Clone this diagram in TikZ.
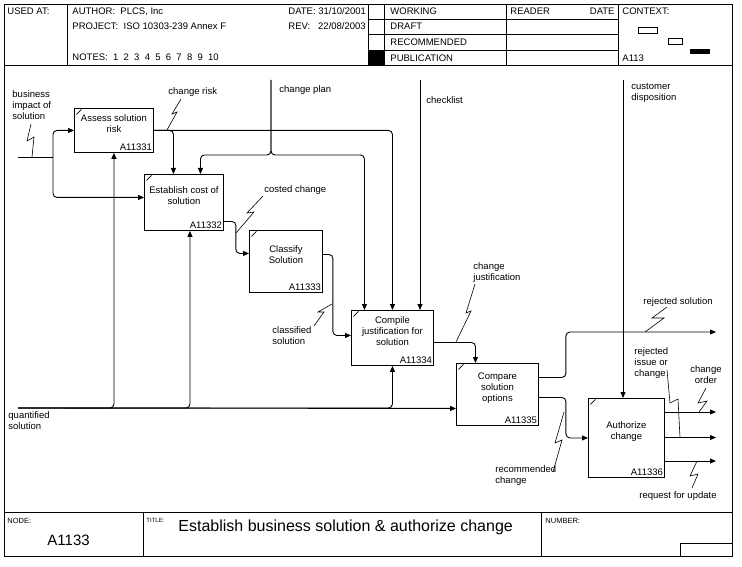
\documentclass[tikz,border=0pt]{standalone}
\usepackage{fontspec}
\setmainfont{Liberation Sans}
\usetikzlibrary{arrows.meta}

\begin{document}
\begin{tikzpicture}[x=1pt,y=-1pt,line width=0.9pt,
    txt/.style={font=\fontsize{9.5}{11}\selectfont,inner sep=0pt,align=left,anchor=north west},
    hd/.style={font=\fontsize{9.5}{11}\selectfont,inner sep=0pt,anchor=base west},
    tiny/.style={font=\fontsize{7}{8}\selectfont,inner sep=0pt,anchor=base west},
    func/.style 2 args={draw,anchor=north west,inner sep=0pt,minimum width=#1pt,minimum height=#2pt,
      path picture={\draw[line width=0.6pt] ([shift={(2pt,-6pt)}]path picture bounding box.north west) -- ++(5pt,5pt);}},
    fname/.style={font=\fontsize{9.5}{11}\selectfont,inner sep=0pt,align=center},
    fid/.style={font=\fontsize{9.5}{11}\selectfont,inner xsep=1.5pt,inner ysep=2pt,anchor=south east},
    flow/.style={rounded corners=4pt,-{Triangle[length=6pt,width=5pt]}},
    squig/.style={line width=0.6pt}]
\useasboundingbox (0,0) rectangle (742,567);

% frame, header and footer
\draw (4,4) rectangle (732,556);
\draw (4,65) -- (732,65);
\draw (67,4) -- (67,65);
\foreach \x in {368,384,506,618} \draw (\x,4) -- (\x,65);
\foreach \y in {19,34,50} \draw (368,\y) -- (618,\y);
\fill (368,50) rectangle (384,65);
\draw[line width=0.6pt] (638,27) rectangle (657,33);
\draw[line width=0.6pt] (668,38) rectangle (682,44);
\fill (690,49) rectangle (710,54);
\draw (4,512) -- (732,512);
\draw (143,512) -- (143,556);
\draw (541,512) -- (541,556);
\draw (680,556) |- (732,543);

\node[hd] (usedat) at (7,15) {USED AT:};
\node[hd] (author) at (72,15) {AUTHOR:\ \ PLCS, Inc};
\node[hd] (project) at (72,29.5) {PROJECT:\ \ ISO 10303-239 Annex F};
\node[hd] (notes) at (72,60.5) {NOTES:\ \ 1\ \ 2\ \ 3\ \ 4\ \ 5\ \ 6\ \ 7\ \ 8\ \ 9\ \ 10};
\node[hd] (date) at (288,15) {DATE: 31/10/2001};
\node[hd] (rev) at (288,29.5) {REV:\ \ \ 22/08/2003};
\node[hd] (working) at (390,15) {WORKING};
\node[hd] (draft) at (390,30) {DRAFT};
\node[hd] (recom) at (390,45.6) {RECOMMENDED};
\node[hd] (publ) at (390,61.3) {PUBLICATION};
\node[hd] (reader) at (510,15) {READER};
\node[hd,anchor=base east] (rdate) at (615,15) {DATE};
\node[hd] (context) at (622,15) {CONTEXT:};
\node[hd] (ctxnode) at (622,61.3) {A113};

\node[tiny,font=\fontsize{7.5}{9}\selectfont] (nodelbl) at (7,523) {NODE:};
\node[tiny,font=\fontsize{6}{7}\selectfont] (titlelbl) at (146,522) {TITLE:};
\node[tiny,font=\fontsize{7.5}{9}\selectfont] (numberlbl) at (545,523) {NUMBER:};
\node[hd,font=\fontsize{15}{18}\selectfont] (nodeno) at (47,545) {A1133};
\node[hd,font=\fontsize{16}{19}\selectfont] (title) at (178,531.7) {Establish business solution \& authorize change};

% activities
\node[func={79}{44}] (A11331) at (74,108) {};
\node[fname] (A11331n) at ([yshift=6.5pt]A11331.center) {Assess solution\\risk};
\node[fid] (A11331i) at (A11331.south east) {A11331};
\node[func={79}{56}] (A11332) at (144,174) {};
\node[fname] (A11332n) at ([yshift=6.5pt]A11332.center) {Establish cost of\\solution};
\node[fid] (A11332i) at (A11332.south east) {A11332};
\node[func={73}{62}] (A11333) at (249,230) {};
\node[fname] (A11333n) at ([yshift=6.5pt]A11333.center) {Classify\\Solution};
\node[fid] (A11333i) at (A11333.south east) {A11333};
\node[func={82}{55}] (A11334) at (351,310) {};
\node[fname] (A11334n) at ([yshift=6.5pt]A11334.center) {Compile\\justification for\\solution};
\node[fid] (A11334i) at (A11334.south east) {A11334};
\node[func={82}{62}] (A11335) at (456,363) {};
\node[fname] (A11335n) at ([yshift=6.5pt]A11335.center) {Compare\\solution\\options};
\node[fid] (A11335i) at (A11335.south east) {A11335};
\node[func={76}{79}] (A11336) at (588,398) {};
\node[fname] (A11336n) at ([yshift=6.5pt]A11336.center) {Authorize\\change};
\node[fid] (A11336i) at (A11336.south east) {A11336};

% free ends
\coordinate (bi) at (18,157);
\coordinate (bj) at (53,157);
\coordinate (cp) at (271,80);
\coordinate (ck) at (420,80);
\coordinate (qs) at (18,408);
\coordinate (cd) at (623,80);
\coordinate (rs) at (716,332);
\coordinate (co) at (716,412);
\coordinate (ri) at (716,437.5);
\coordinate (ru) at (716,461);

% arrows
\draw (bi) -- (bj);
\draw[flow] (bj) |- (A11331.west);
\draw[flow] (bj) |- ([yshift=5pt]A11332.west);
\draw[flow] (A11331.east) -| (A11334.north);
\draw[flow] (A11331.east) -| ([xshift=-10.5pt]A11332.north);
\draw[flow] (cp) -- ++(0,75) -| ([xshift=-28pt]A11334.north);
\draw[flow] (cp) -- ++(0,75) -| ([xshift=16.5pt]A11332.north);
\draw[flow] (ck) -- (ck |- A11334.north);
\draw[flow] ([yshift=-19pt]A11332.east) -- ++(12,0) |- ([yshift=8pt]A11333.west);
\draw[flow] ([yshift=7pt]A11333.east) -- ++(10,0) |- ([yshift=2.5pt]A11334.west);
\draw[flow] ([yshift=-4.5pt]A11334.east) -| ([xshift=-22pt]A11335.north);
\draw[flow] (qs) -- ([yshift=-14pt]A11335.west);
\draw[flow] (qs) -| (A11331.south);
\draw[flow] (qs) -| ([xshift=6pt]A11332.south);
\draw[flow] (qs) -| (A11334.south);
\draw[flow] (cd) -- (cd |- A11336.north);
\draw[flow] ([yshift=17pt]A11335.east) -- ++(27,0) |- (rs);
\draw[flow] ([yshift=-3pt]A11335.east) -- ++(27,0) |- (A11336.west);
\draw[flow] (A11336.east |- co) -- (co);
\draw[flow] (A11336.east |- ri) -- (ri);
\draw[flow] (A11336.east |- ru) -- (ru);

% labels
\node[txt] (bisol) at (12,90) {business\\impact of\\solution};
\node[txt] (crisk) at (168,87) {change risk};
\node[txt] (cplan) at (279,85) {change plan};
\node[txt] (chkl) at (426,96) {checklist};
\node[txt] (costed) at (264,185) {costed change};
\node[txt] (classd) at (272,326) {classified\\solution};
\node[txt] (cjust) at (473,262) {change\\justification};
\node[txt] (qsol) at (8,411) {quantified\\solution};
\node[txt] (cdisp) at (631,83) {customer\\disposition};
\node[txt] (rsol) at (643,297) {rejected solution};
\node[txt] (rissue) at (634,347) {rejected\\issue or\\change};
\node[txt,align=center,anchor=north] (corder) at (706,365) {change\\order};
\node[txt] (rchange) at (495,465) {recommended\\change};
\node[txt] (rupd) at (639,491) {request for update};

% squiggles
\draw[squig] (31,124) -- (27,141) -- (34,137) -- (32,157);
\draw[squig] (181,99) -- (172,114) -- (177,112) -- (167,130);
\draw[squig] (263,196) -- (247,213) -- (254,212) -- (236,233);
\draw[squig] (332,304) -- (318,312) -- (324,312) -- (314,326);
\draw[squig] (475,284) -- (466,313) -- (471,311) -- (456,342);
\draw[squig] (667,307) -- (652,318) -- (664,318) -- (645,332);
\draw[squig] (564,412) -- (555,443) -- (562,440) -- (553,472);
\draw[squig] (667,370) -- (670,403) -- (678,399) -- (680,437.5);
\draw[squig] (706,388) -- (698,403) -- (707,401) -- (699,412);
\draw[squig] (697,461) -- (690,476) -- (698,474) -- (692,488);
\end{tikzpicture}
\end{document}
